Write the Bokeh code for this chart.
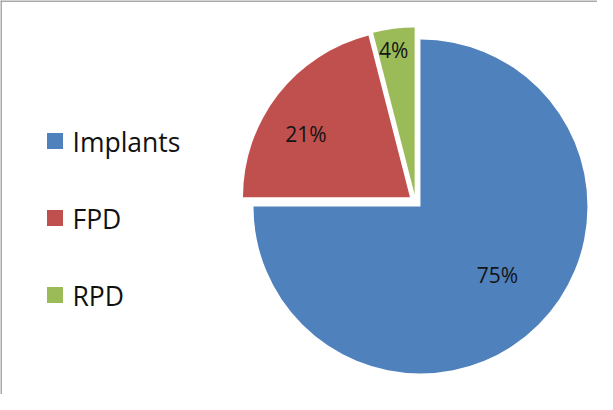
import math
import numpy as np
from bokeh.plotting import figure
from bokeh.models import Range1d, Span, ColumnDataSource
from bokeh.core.properties import value
from bokeh.embed import file_html
from bokeh.resources import INLINE

# ---- data ----
categories = ["Implants", "FPD", "RPD"]
shares = [75, 21, 4]
pct_labels = ["75%", "21%", "4%"]
colors = ["#4F81BD", "#C0504D", "#9BBB59"]

# ---- layout constants ----
W, H = 597, 394
PAGE_H = 410
CX, CY = 423, PAGE_H - 209
R = 167
EXPLODE = 7
label_frac = [0.615, 0.727, 0.872]
label_nudge_deg = [3.5, 6.7, 1.1]

p = figure(width=W, height=H, x_range=Range1d(8, 8 + W), y_range=Range1d(8, 8 + H),
           output_backend="svg", toolbar_location=None, min_border=0,
           x_axis_type=None, y_axis_type=None)
p.outline_line_color = None
p.background_fill_color = "white"
p.border_fill_color = "white"

total = float(sum(shares))
cum = np.cumsum([0] + shares) / total
start = math.pi / 2 - 2 * math.pi * cum[:-1]
end = math.pi / 2 - 2 * math.pi * cum[1:]
mid = (start + end) / 2
xs = CX + EXPLODE * np.cos(mid)
ys = CY + EXPLODE * np.sin(mid)

src = ColumnDataSource(dict(x=xs, y=ys, start=start, end=end, color=colors))
p.wedge(x="x", y="y", radius=R, start_angle="start", end_angle="end",
        direction="clock", fill_color="color", line_color=None, source=src)

lang = mid + np.radians(label_nudge_deg)
lx = xs + np.array(label_frac) * R * np.cos(lang)
ly = ys + np.array(label_frac) * R * np.sin(lang)
p.text(x=lx, y=ly, text=pct_labels, text_align="center", text_baseline="middle",
       text_font=value("Open Sans"), text_font_size="21px", text_color="#141414")

# legend (manual)
idx = np.arange(len(categories))
center_page = 149 + 77 * idx
p.rect(x=[62.5] * len(categories), y=PAGE_H - center_page + 0.5, width=16, height=16,
       fill_color=colors, line_color=None)
p.text(x=[80] * len(categories), y=PAGE_H - center_page, text=categories,
       text_align="left", text_baseline="middle",
       text_font=value("Open Sans"), text_font_size="26.5px", text_color="#111111")

# border lines (top and left)
p.add_layout(Span(location=8 + H - 0.5, dimension="width", line_color="#8c8c8c", line_width=1.5))
p.add_layout(Span(location=8.5, dimension="height", line_color="#8c8c8c", line_width=1.5))

open("out.html", "w").write(file_html(p, INLINE))
